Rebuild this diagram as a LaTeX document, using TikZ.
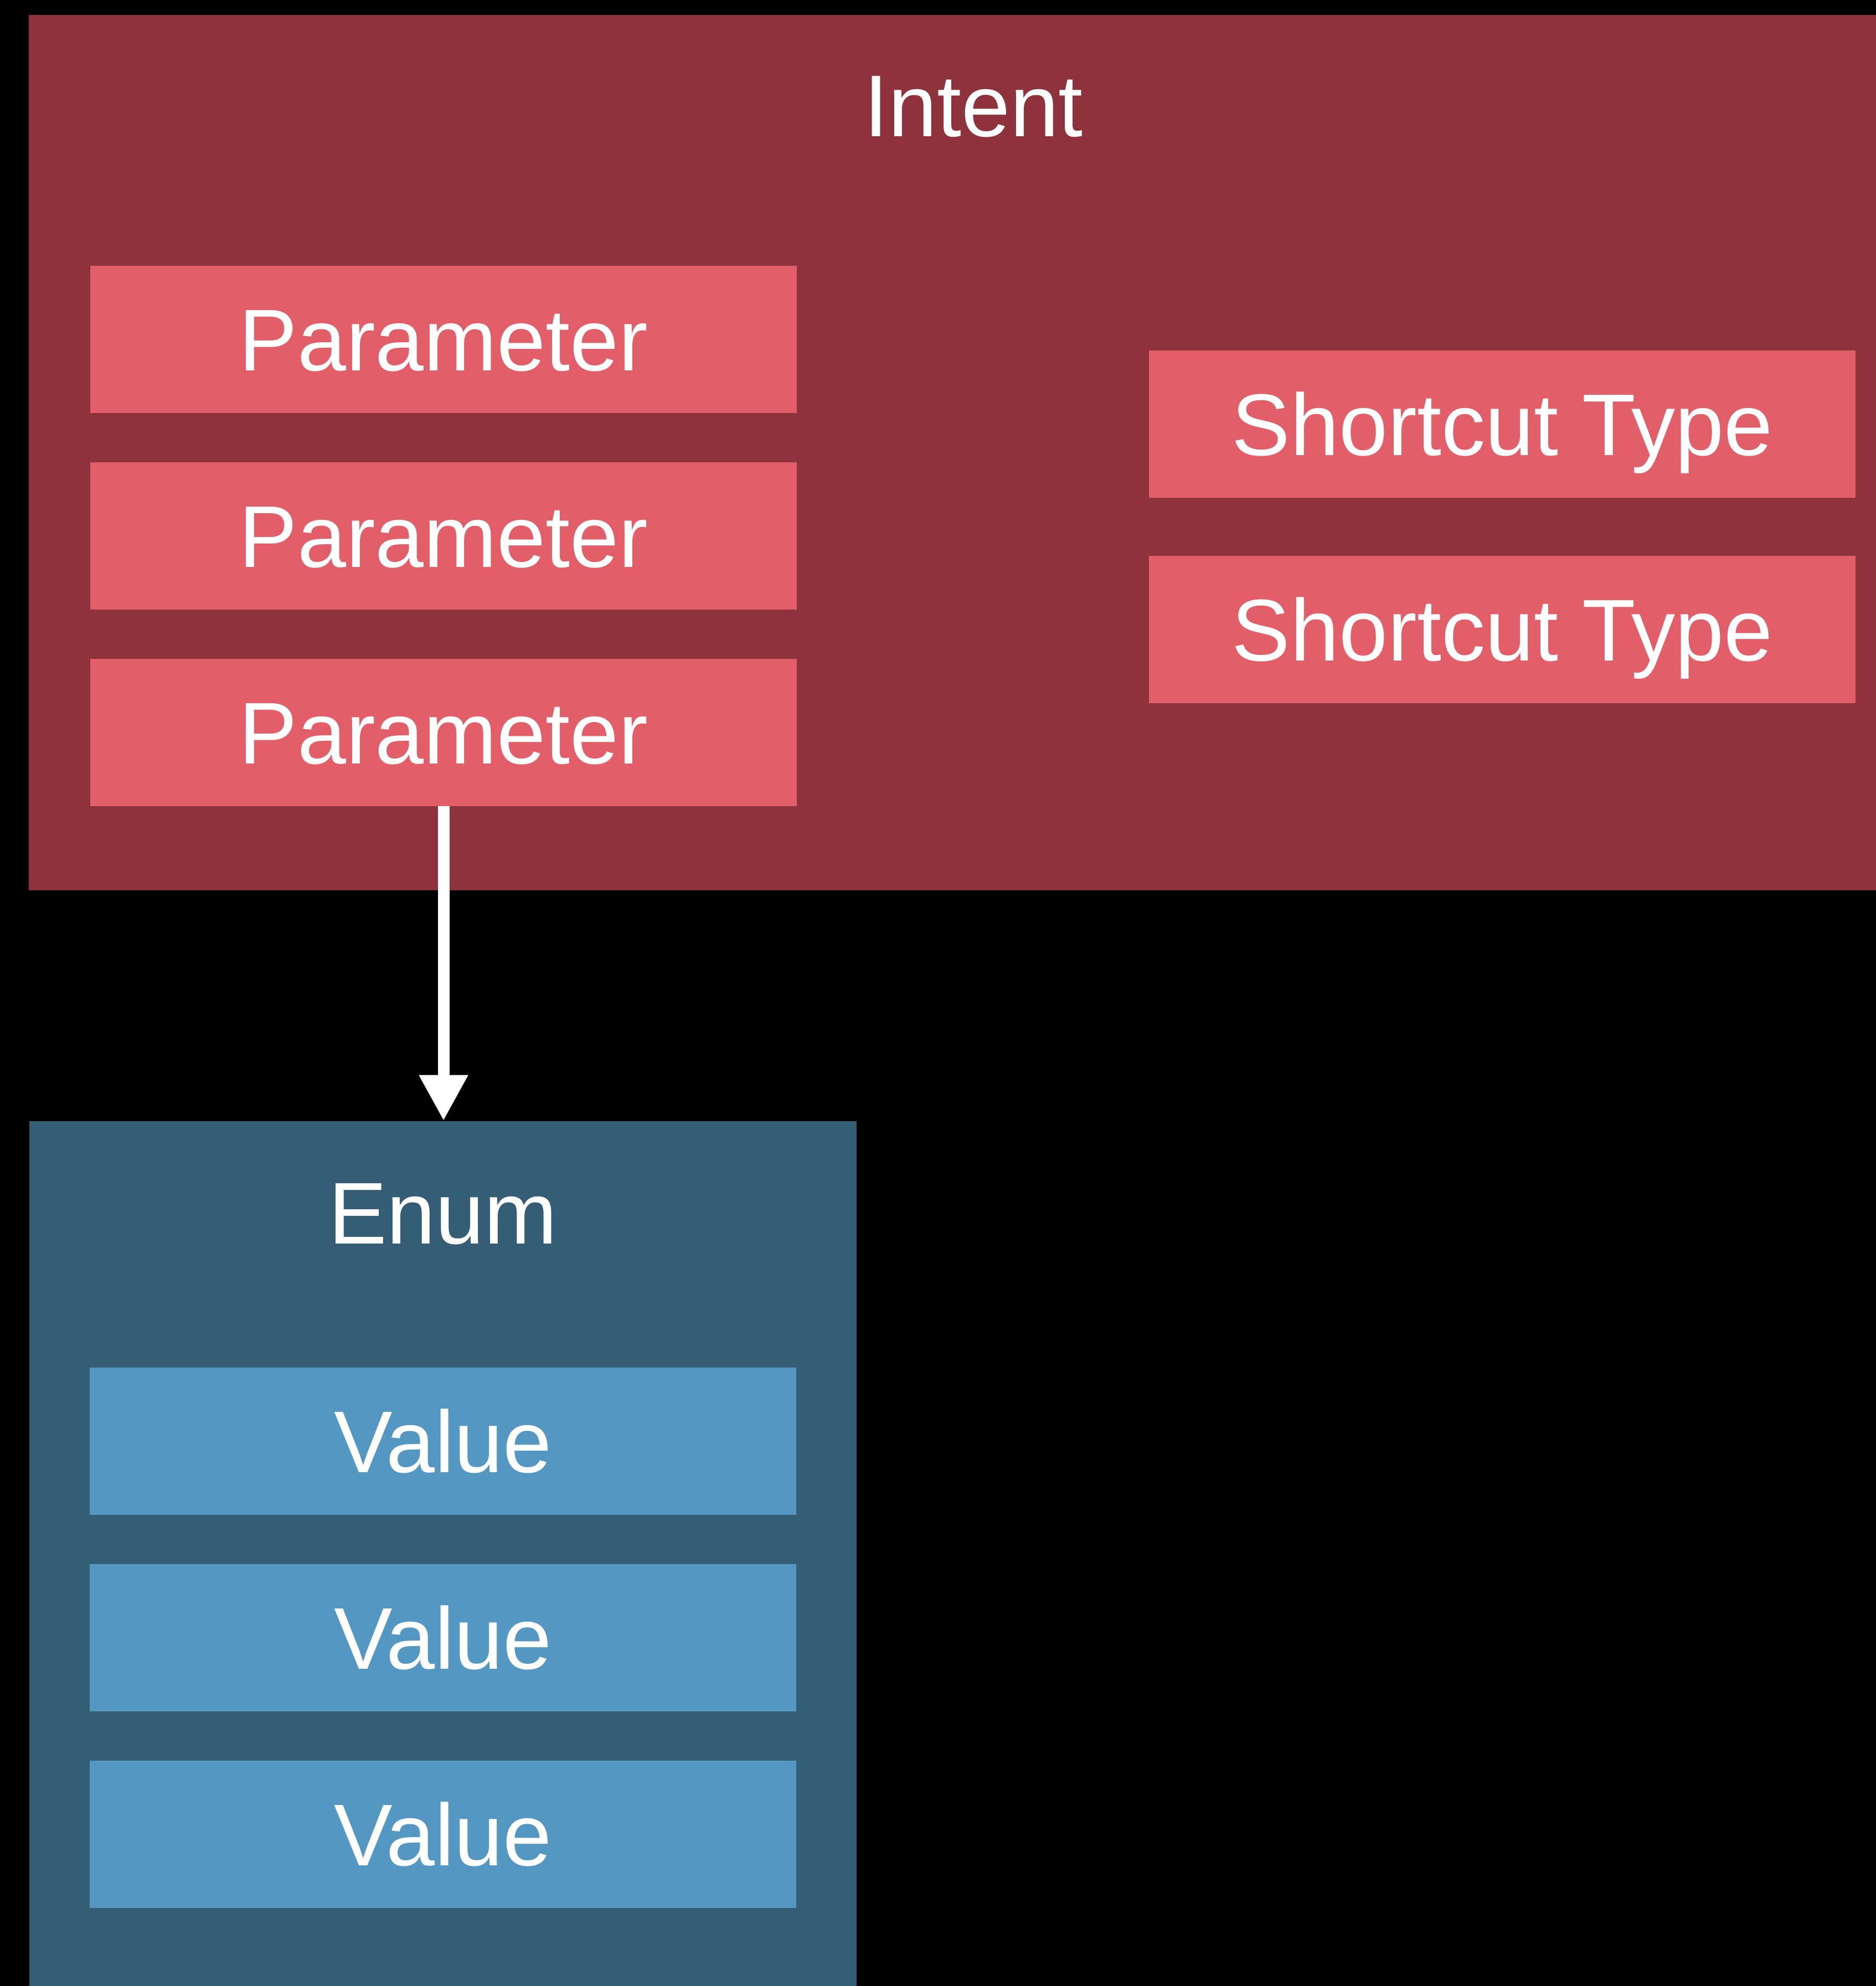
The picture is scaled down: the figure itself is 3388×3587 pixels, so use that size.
\documentclass[tikz,border=0pt]{standalone}
\usepackage{fontspec}
\setmainfont{Liberation Sans}
\usetikzlibrary{arrows.meta}
\definecolor{intentdark}{RGB}{142,51,59}
\definecolor{intentlight}{RGB}{226,95,106}
\definecolor{enumdark}{RGB}{53,93,117}
\definecolor{enumlight}{RGB}{84,151,194}
\tikzset{
  container/.style={inner sep=0pt,outer sep=0pt},
  itembox/.style={inner sep=0pt,outer sep=0pt,minimum width=12.75cm,minimum height=2.66cm,text=white,font=\fontsize{45}{54}\selectfont,text height=32pt,text depth=0pt},
  boxtitle/.style={inner sep=0pt,text=white,font=\fontsize{45}{54}\selectfont,text height=32pt,text depth=0pt},
  flow/.style={draw=white,line width=0.21cm,-{Triangle[length=0.83cm,width=0.83cm]}}
}

\begin{document}
\begin{tikzpicture}[x=0.01cm,y=-0.01cm]
  % drawing parameters
  \pgfmathsetmacro{\lcol}{801} % centre of left column
  \pgfmathsetmacro{\rcol}{2713} % centre of right column
  \pgfmathsetmacro{\gap}{355} % vertical distance in between items

  % background
  \fill[black] (0,0) rectangle (3388,3587);
  \useasboundingbox (0,0) rectangle (3388,3587);

  % intent block
  \node[container,fill=intentdark,minimum width=34.10cm,minimum height=15.81cm] (intent) at (1758,817.5) {};
  \node[boxtitle] (intenttitle) at (1758,190) {Intent};
  \node[itembox,fill=intentlight] (p1) at (\lcol,613) {Parameter};
  \node[itembox,fill=intentlight] (p2) at (\lcol,613+\gap) {Parameter};
  \node[itembox,fill=intentlight] (p3) at (\lcol,613+2*\gap) {Parameter};
  \node[itembox,fill=intentlight] (s1) at (\rcol,766) {Shortcut Type};
  \node[itembox,fill=intentlight] (s2) at (\rcol,1137) {Shortcut Type};

  % enum block
  \node[container,fill=enumdark,minimum width=14.94cm,minimum height=16.25cm] (enum) at (800,2837.5) {};
  \node[boxtitle] (enumtitle) at (800,2190) {Enum};
  \node[itembox,fill=enumlight] (v1) at (800,2603) {Value};
  \node[itembox,fill=enumlight] (v2) at (800,2603+\gap) {Value};
  \node[itembox,fill=enumlight] (v3) at (800,2603+2*\gap) {Value};

  % connector
  \draw[flow] (p3.south) -- (p3.south |- enum.north);
\end{tikzpicture}
\end{document}
